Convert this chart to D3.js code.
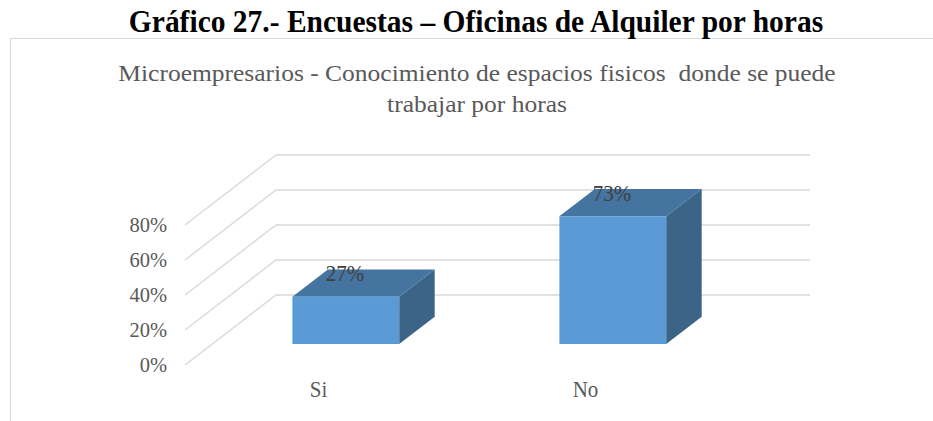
<!DOCTYPE html>
<html><head><meta charset="utf-8">
<script src="https://cdn.jsdelivr.net/npm/d3@7"></script>
<style>body{margin:0;background:#fff}svg{display:block}</style>
</head><body><svg id="c" width="933" height="421"></svg>
<script>
const categories = ["Si", "No"];
const values = [0.27, 0.73];
const valueLabels = ["27%", "73%"];
const yTicks = [0, 0.2, 0.4, 0.6, 0.8];
const pageTitle = "Gráfico 27.- Encuestas – Oficinas de Alquiler por horas";
const chartTitle = ["Microempresarios - Conocimiento de espacios fisicos  donde se puede", "trabajar por horas"];

const FONT = "'Liberation Serif','Times New Roman',serif";
const svg = d3.select("#c");

function label(g, x, y, txt, size, opts = {}) {
  const sy = opts.sy || 1;
  return g.append("text")
    .attr("transform", `translate(${x},${y}) scale(1,${sy})`)
    .attr("text-anchor", opts.anchor || "middle")
    .attr("font-family", FONT)
    .attr("font-size", size)
    .attr("font-weight", opts.weight || "normal")
    .attr("fill", opts.fill || "#595959")
    .style("white-space", "pre")
    .text(txt);
}

// frame
svg.append("path").attr("d", "M10.5,421 V38.5 H933").attr("fill", "none").attr("stroke", "#d9d9d9").attr("stroke-width", 1.2);

label(svg, 476, 32, pageTitle, 29.5, { weight: "bold", fill: "#000", sy: 1.08 });
chartTitle.forEach((t, i) => label(svg, 477, 81 + i * 31, t, 25.5, { sy: 0.92 }));

// 3D projection
const DX = 91, DY = 70;
const x = d3.scaleBand().domain(categories).range([185, 719]).paddingInner(0).paddingOuter(0);
const y = d3.scaleLinear().domain([0, 0.8]).range([365, 225]);
const P = (px, v, z) => [px + z * DX, y(v) - z * DY];

const grid = svg.append("g").attr("stroke", "#d9d9d9").attr("stroke-width", 1.4).attr("fill", "none");
yTicks.forEach(t => {
  const a = P(185, t, 0), b = P(185, t, 1), c = P(719, t, 1);
  grid.append("path").attr("d", `M${a[0]},${a[1]} L${b[0]},${b[1]} L${c[0]},${c[1]}`);
});

yTicks.forEach(t => label(svg, 167, y(t) + 7, d3.format(".0%")(t), 20.5, { anchor: "end", sy: 1.06 }));

const barW = x.bandwidth() * 0.4, z0 = 0.3, z1 = 0.69;
const bars = svg.append("g");
categories.forEach((c, i) => {
  const v = values[i];
  const xl = x(c) + x.bandwidth() / 2 - barW / 2, xr = xl + barW;
  const pt = (px, vv, z) => P(px, vv, z).join(",");
  bars.append("polygon").attr("fill", "#3b6487")
    .attr("points", [pt(xr, 0, z0), pt(xr, 0, z1), pt(xr, v, z1), pt(xr, v, z0)].join(" "));
  bars.append("polygon").attr("fill", "#44749f")
    .attr("points", [pt(xl, v, z0), pt(xr, v, z0), pt(xr, v, z1), pt(xl, v, z1)].join(" "));
  bars.append("polygon").attr("fill", "#5b9bd5")
    .attr("points", [pt(xl, 0, z0), pt(xr, 0, z0), pt(xr, v, z0), pt(xl, v, z0)].join(" "));
  const lp = P(x(c) + x.bandwidth() / 2, v, z0 - 0.01);
  label(svg, lp[0], lp[1] - 16, valueLabels[i], 21, { fill: "#404040", sy: 1.05 });
});

categories.forEach(c => label(svg, x(c) + x.bandwidth() / 2, 396.5, c, 21, { sy: 1.05 }));
</script></body></html>
